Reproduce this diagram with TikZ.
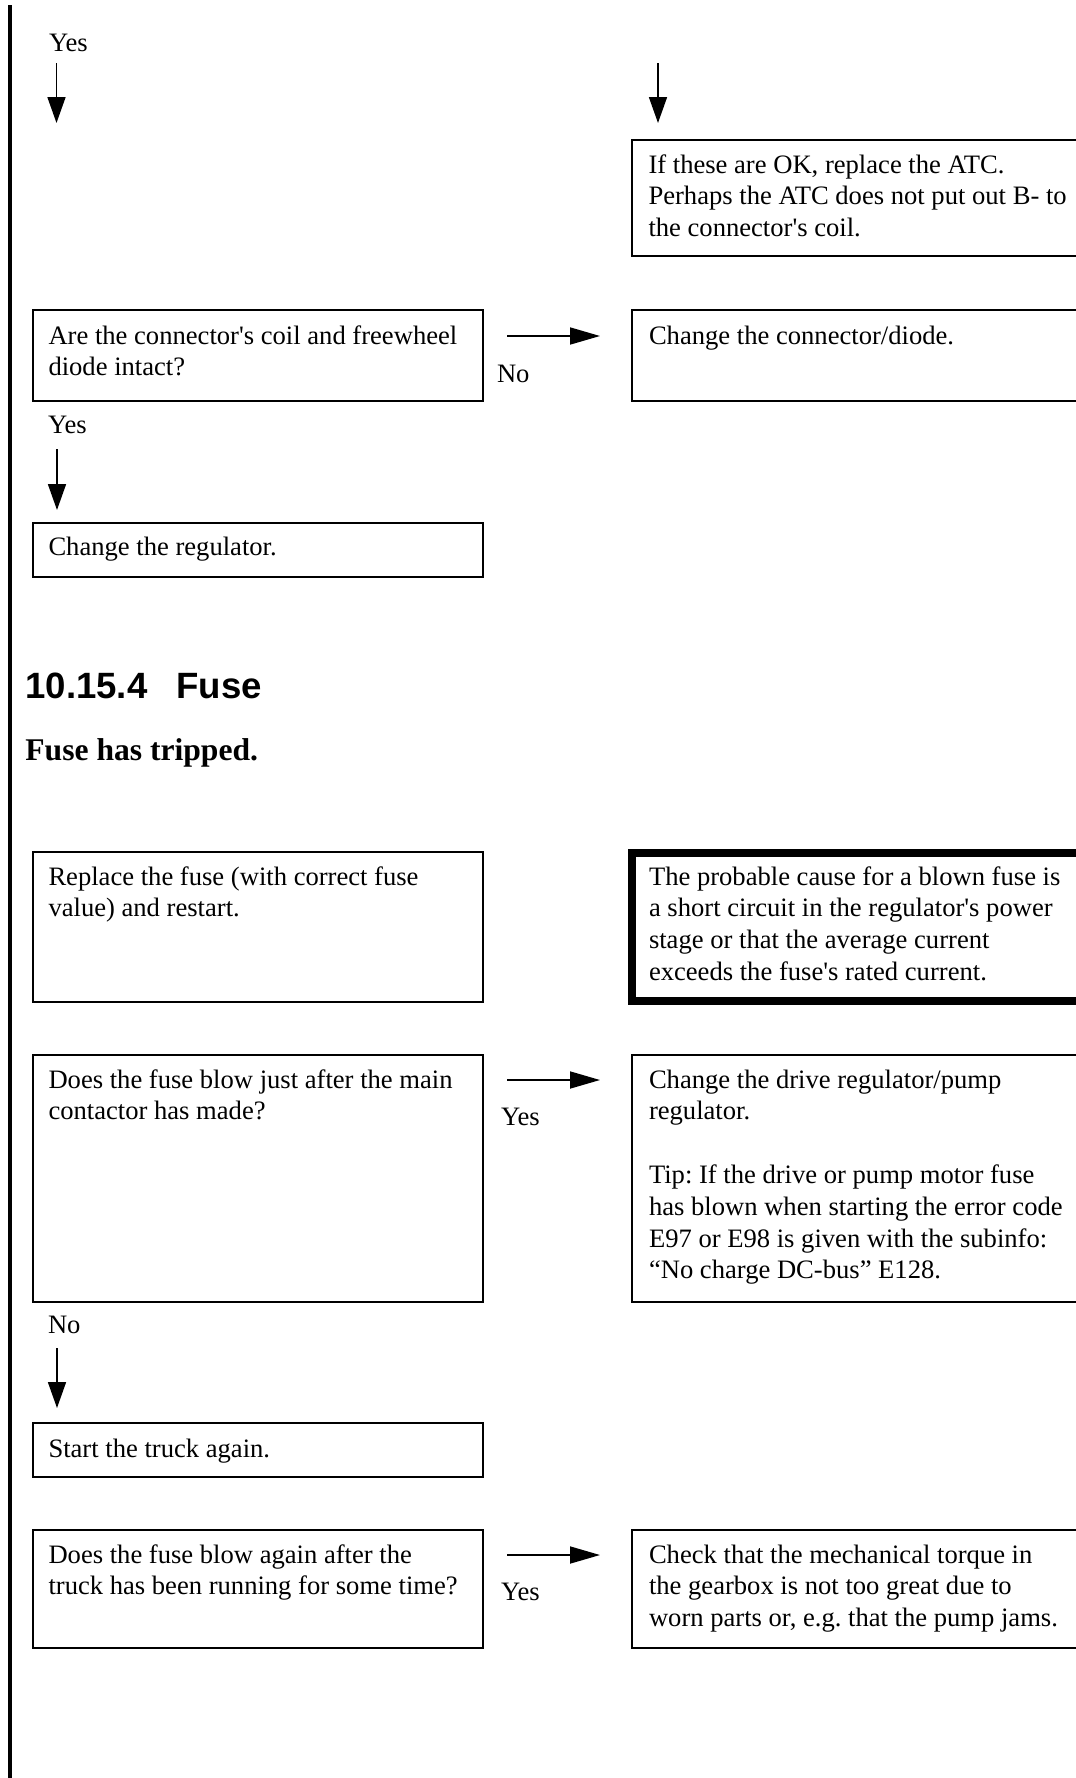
\documentclass[tikz,border=0pt]{standalone}
\usepackage{fontspec}
\setmainfont{Liberation Serif}[Ligatures=TeXOff]
\newfontfamily\headfont{Liberation Sans}
\usetikzlibrary{arrows.meta}
\tikzset{
  box/.style={draw, line width=1pt, rectangle, inner sep=0pt, outer sep=0pt, anchor=north west},
  thickbox/.style={box, line width=4pt},
  lbox/.style={box, minimum width=225pt},
  rbox/.style={box, minimum width=229pt},
  txt/.style={anchor=base west, inner sep=0pt, outer sep=0pt, text width=220pt, align=flush left,
              font=\fontsize{13.3pt}{15.9pt}\selectfont},
  lbl/.style={anchor=base west, inner sep=0pt, outer sep=0pt, font=\fontsize{13.3pt}{15.9pt}\selectfont},
  varr/.style={line width=0.85pt, -{Triangle[length=13pt,width=9pt]}},
  harr/.style={line width=0.85pt, -{Triangle[length=15pt,width=8.5pt]}},
}
\begin{document}
\frenchspacing
\begin{tikzpicture}[x=0.5pt,y=-0.5pt]
\useasboundingbox (0,0) rectangle (1076,1778);
\clip (0,0) rectangle (1076,1778);
% left margin rule
\draw[line width=1.65pt] (10,5) -- (10,1790);

% ---- top part
\node[lbl] (yes0) at (49,51) {Yes};
\coordinate (a0s) at (56.5,63);
\coordinate (a0e) at (56.5,123);
\draw[varr] (a0s) -- (a0e);
\coordinate (b0s) at (658,63);
\coordinate (b0e) at (658,123);
\draw[varr] (b0s) -- (b0e);

\node[rbox, minimum height=58pt] (atc) at (632,139.5) {};
\node[txt] (atct) at (648.5,173) {If these are OK, replace the ATC.\\Perhaps the ATC does not put out B- to\\the connector's coil.};

% ---- coil question
\node[lbox, minimum height=45.5pt] (coil) at (32.5,310) {};
\node[txt] (coilt) at (48.5,344) {Are the connector's coil and freewheel\\diode intact?};
\coordinate (a1s) at (507,336);
\coordinate (a1e) at (600,336);
\draw[harr] (a1s) -- (a1e);
\node[lbl] (no1) at (497,382) {No};
\node[rbox, minimum height=45.5pt] (diode) at (632,310) {};
\node[txt] (diodet) at (649,344) {Change the connector/diode.};

\node[lbl] (yes1) at (48,433) {Yes};
\coordinate (a2s) at (57,449);
\coordinate (a2e) at (57,510);
\draw[varr] (a2s) -- (a2e);
\node[lbox, minimum height=27pt] (reg) at (32.5,523) {};
\node[txt] (regt) at (48.5,555) {Change the regulator.};

% ---- headings
\node[anchor=base west, inner sep=0pt, font=\headfont\bfseries\fontsize{18.3pt}{22pt}\selectfont] (head) at (25,698) {10.15.4\hskip 14.5pt Fuse};
\node[anchor=base west, inner sep=0pt, font=\bfseries\fontsize{15.8pt}{19pt}\selectfont] (sub) at (25,760) {Fuse has tripped.};

% ---- replace fuse
\node[lbox, minimum height=75pt] (repl) at (32.5,852) {};
\node[txt] (replt) at (48.5,885) {Replace the fuse (with correct fuse\\value) and restart.};
\node[thickbox, minimum width=229pt, minimum height=74.25pt] (cause) at (632,852.5) {};
\node[txt] (causet) at (649,885) {The probable cause for a blown fuse is\\a short circuit in the regulator's power\\stage or that the average current\\exceeds the fuse's rated current.};

% ---- fuse blows after contactor
\node[lbox, minimum height=123.5pt] (blow) at (32.5,1055) {};
\node[txt] (blowt) at (48.5,1088) {Does the fuse blow just after the main\\contactor has made?};
\coordinate (a3s) at (507,1080);
\coordinate (a3e) at (600,1080);
\draw[harr] (a3s) -- (a3e);
\node[lbl] (yes3) at (501,1125) {Yes};
\node[rbox, minimum height=123.5pt] (drive) at (632,1055) {};
\node[txt] (drivet) at (649,1088) {Change the drive regulator/pump\\regulator.\\\mbox{}\\Tip: If the drive or pump motor fuse\\has blown when starting the error code\\E97 or E98 is given with the subinfo:\\“No charge DC-bus” E128.};

\node[lbl] (no3) at (48,1333) {No};
\coordinate (a4s) at (57,1348);
\coordinate (a4e) at (57,1408);
\draw[varr] (a4s) -- (a4e);
\node[lbox, minimum height=27pt] (start) at (32.5,1423) {};
\node[txt] (startt) at (48.5,1457) {Start the truck again.};

% ---- fuse blows again
\node[lbox, minimum height=59pt] (again) at (32.5,1530) {};
\node[txt] (againt) at (48.5,1563) {Does the fuse blow again after the\\truck has been running for some time?};
\coordinate (a5s) at (507,1555);
\coordinate (a5e) at (600,1555);
\draw[harr] (a5s) -- (a5e);
\node[lbl] (yes5) at (501,1600) {Yes};
\node[rbox, minimum height=59pt] (torque) at (632,1530) {};
\node[txt] (torquet) at (649,1563) {Check that the mechanical torque in\\the gearbox is not too great due to\\worn parts or, e.g. that the pump jams.};
\end{tikzpicture}
\end{document}
